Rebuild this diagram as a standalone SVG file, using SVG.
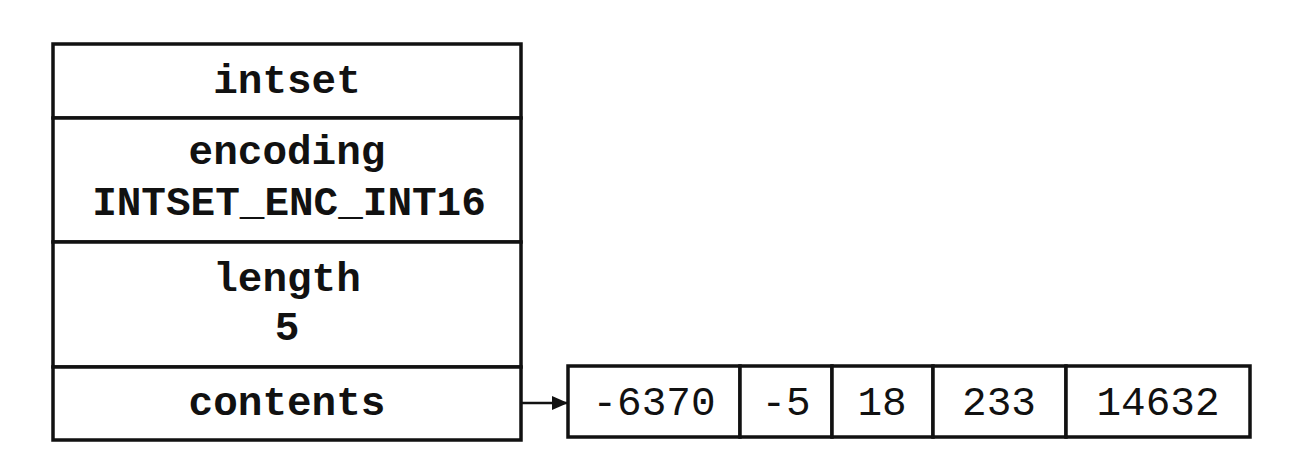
<svg xmlns="http://www.w3.org/2000/svg" width="1302" height="476" viewBox="0 0 1302 476">
<style>
.box{fill:#fff;stroke:#111;stroke-width:3.5}
.t{font-family:"Liberation Mono","DejaVu Sans Mono",monospace;font-size:41px;font-weight:bold;fill:#111;text-anchor:middle}
.n{font-family:"Liberation Mono","DejaVu Sans Mono",monospace;font-size:41px;fill:#111;text-anchor:middle}
.c{stroke:#111;stroke-width:2.5;fill:none}
</style>
<defs>
<marker id="ah" markerWidth="16" markerHeight="14" refX="15" refY="7" orient="auto" markerUnits="userSpaceOnUse">
<path d="M0,0 L16,7 L0,14 z" fill="#111"/>
</marker>
</defs>
<rect width="1302" height="476" fill="#fff"/>
<g id="intset">
<rect class="box" x="53" y="44" width="468" height="74"/>
<text class="t" x="287" y="93">intset</text>
</g>
<g id="encoding">
<rect class="box" x="53" y="118" width="468" height="124"/>
<text class="t" x="287" y="164">encoding</text>
<text class="t" x="289" y="215">INTSET_ENC_INT16</text>
</g>
<g id="length">
<rect class="box" x="53" y="242" width="468" height="125"/>
<text class="t" x="287" y="291">length</text>
<text class="t" x="287" y="340">5</text>
</g>
<g id="contents">
<rect class="box" x="53" y="367" width="468" height="73"/>
<text class="t" x="287" y="415">contents</text>
</g>
<g id="array">
<rect class="box" x="568" y="366" width="172" height="71"/>
<text class="n" x="654" y="415">-6370</text>
<rect class="box" x="740" y="366" width="92" height="71"/>
<text class="n" x="786" y="415">-5</text>
<rect class="box" x="832" y="366" width="101" height="71"/>
<text class="n" x="882" y="415">18</text>
<rect class="box" x="933" y="366" width="133" height="71"/>
<text class="n" x="999" y="415">233</text>
<rect class="box" x="1066" y="366" width="184" height="71"/>
<text class="n" x="1158" y="415">14632</text>
</g>
<g id="connectors">
<line class="c" x1="521" y1="403" x2="567" y2="403" marker-end="url(#ah)"/>
</g>
</svg>
